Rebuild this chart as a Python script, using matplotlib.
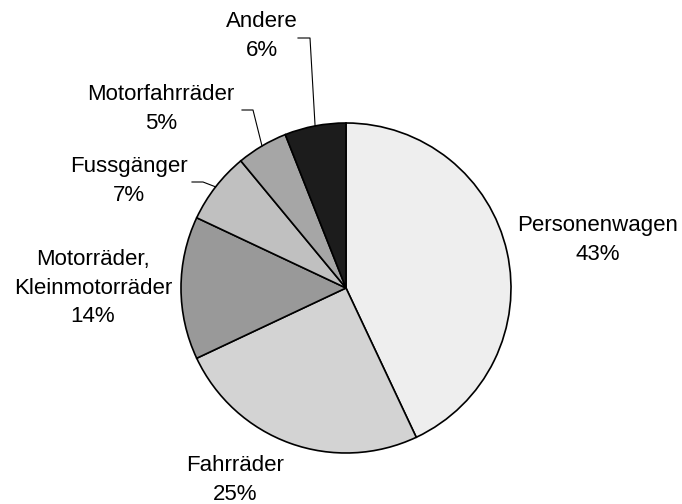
import numpy as np
import matplotlib.pyplot as plt

plt.rcParams['font.family'] = ['Liberation Sans', 'DejaVu Sans']

labels = ["Personenwagen", "Fahrräder", "Motorräder,\nKleinmotorräder",
          "Fussgänger", "Motorfahrräder", "Andere"]
shares = [43, 25, 14, 7, 5, 6]
colors = ["#eeeeee", "#d3d3d3", "#999999", "#c0c0c0", "#a6a6a6", "#1c1c1c"]

# label block centres in pixels (x from left, y from top)
label_px = [(598, 240), (235, 480), (93, 288), (129, 181), (161, 109), (262, 36)]
# leader lines: (start of horizontal stub, elbow) in pixels, None = no leader
leader_px = [None, None, None, ((192, 182), (203, 182)),
             ((242, 110), (253, 110)), ((298, 38), (310, 38))]

cx, cy, R = 346, 288, 165
W, H = 682, 504

fig = plt.figure(figsize=(6.82, 5.04), dpi=100)
ax = fig.add_axes([0, 0, 1, 1])

def px(p):
    return ((p[0] - cx) / R, (cy - p[1]) / R)

wedges, _ = ax.pie(shares, colors=colors, startangle=90, counterclock=False,
                   radius=1, center=(0, 0), frame=True,
                   wedgeprops=dict(edgecolor='black', linewidth=1.2))
ax.set_xlim(-cx / R, (W - cx) / R)
ax.set_ylim(-(H - cy) / R, cy / R)
ax.set_aspect('equal')
ax.axis('off')

for w, lab, share, lp, ld in zip(wedges, labels, shares, label_px, leader_px):
    x, y = px(lp)
    ax.text(x, y, f"{lab}\n{share}%", ha='center', va='center',
            fontsize=16, linespacing=1.45)
    if ld is not None:
        mid = np.deg2rad((w.theta1 + w.theta2) / 2)
        ex, ey = np.cos(mid), np.sin(mid)
        (x0, y0), (x1, y1) = px(ld[0]), px(ld[1])
        ax.plot([x0, x1, ex], [y0, y1, ey], color='black', linewidth=0.8)

fig.savefig("out.png", dpi=100)
